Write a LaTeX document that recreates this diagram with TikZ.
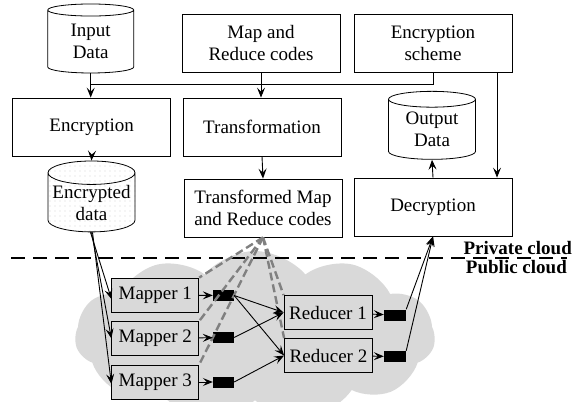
\documentclass[tikz,border=0pt]{standalone}
\usepackage{fontspec}
\setmainfont{Liberation Serif}
\usetikzlibrary{shapes.geometric,shapes.symbols,arrows.meta,patterns.meta,backgrounds}
\begin{document}
\begin{tikzpicture}[x=1pt,y=-1pt,
    every node/.style={font=\fontsize{19}{22}\selectfont, inner sep=0pt, align=center},
    box/.style={draw, line width=0.8pt, minimum width=158pt, minimum height=58pt},
    store/.style={draw, line width=0.8pt, cylinder, shape border rotate=90, aspect=0.3},
    task/.style={draw, line width=0.8pt, fill=gray!30, minimum height=34pt},
    buffer/.style={fill=black, minimum width=21pt, minimum height=11pt},
    arr/.style={line width=0.9pt, -{Stealth[length=10pt,width=8pt,inset=4pt]}},
    code/.style={gray, line width=2.4pt, dash pattern=on 8pt off 4pt}]
  \useasboundingbox (0,0) rectangle (577,401);
  \begin{scope}[on background layer]
    \node[cloud, cloud puffs=11, cloud puff arc=100, cloud ignores aspect, fill=gray!30,
      minimum width=360pt, minimum height=170pt] (cloud) at (255,336) {};
  \end{scope}
  \draw
    (90.7,41.7) node[store, minimum width=86pt, minimum height=69pt] (indata) {Input\\Data}
    (261,43) node[box] (mapcodes) {Map and\\Reduce codes}
    (433,43) node[box] (scheme) {Encryption\\scheme}
    (91.7,127) node[box] (encrypt) {Encryption}
    (262,127) node[box] (transform) {Transformation}
    (432,129.5) node[store, minimum width=87pt, minimum height=68pt] (outdata) {Output\\Data}
    (91.5,202.5) node[store, minimum width=87pt, minimum height=62pt,
      pattern={Dots[distance=5pt,radius=0.45pt]}, pattern color=gray] (encdata) {Encrypted\\data}
    (263,208) node[box] (transformed) {Transformed Map\\and Reduce codes}
    (433,207) node[box] (decrypt) {Decryption}
    (155.3,295) node[task, minimum width=87pt] (mapper1) {Mapper 1}
    (155.3,338.5) node[task, minimum width=87pt] (mapper2) {Mapper 2}
    (155.3,382) node[task, minimum width=87pt] (mapper3) {Mapper 3}
    (223.5,295.5) node[buffer] (mout1) {}
    (223.5,337.5) node[buffer] (mout2) {}
    (223.5,382) node[buffer] (mout3) {}
    (328,312.5) node[task, minimum width=88pt] (reducer1) {Reducer 1}
    (328.5,355.5) node[task, minimum width=88pt] (reducer2) {Reducer 2}
    (395,315) node[buffer, minimum width=22pt] (rout1) {}
    (395,356.5) node[buffer, minimum width=22pt] (rout2) {};
  \coordinate (busL) at (90.7,84);
  \coordinate (divL) at (11,258);
  \coordinate (divR) at (567,258);
  \node[anchor=base east, font=\fontsize{19}{22}\selectfont\bfseries] (private) at (572,254) {Private cloud};
  \node[anchor=base east, font=\fontsize{19}{22}\selectfont\bfseries] (public) at (567,273) {Public cloud};
  \draw[line width=2.2pt, dash pattern=on 14pt off 8pt] (divL) -- (divR);
  \begin{scope}[code]
    \draw (transformed.south) to (mapper1.north east);
    \draw (transformed.south) to (mapper2.north east);
    \draw (transformed.south) to (mapper3.north east);
    \draw (transformed.south) to (reducer1.north west);
    \draw (transformed.south) to (reducer2.north west);
  \end{scope}
  \begin{scope}[arr]
    \draw[-] (scheme.south) |- (busL);
    \draw (indata.south) to (indata.south |- encrypt.north);
    \draw (mapcodes.south) to (mapcodes.south |- transform.north);
    \draw ([xshift=64pt]scheme.south) to ([xshift=64pt]decrypt.north);
    \draw (decrypt.north) to (outdata.south);
    \draw (encrypt.south) to (encdata.top);
    \draw (transform.south) to (transformed.north);
    \draw ([xshift=-1pt]encdata.south) to ([yshift=-4pt]mapper1.west);
    \draw (encdata.south) to (mapper2.west);
    \draw ([xshift=1pt]encdata.south) to ([yshift=-2pt]mapper3.west);
    \draw (mapper1) to (mout1);
    \draw (mapper2) to (mout2);
    \draw (mapper3) to (mout3);
    \draw (mout1.east) to (reducer1.west);
    \draw (mout1.east) to (reducer2.west);
    \draw (mout2.east) to (reducer1.west);
    \draw (mout3.east) to (reducer2.west);
    \draw (reducer1) to (rout1);
    \draw (reducer2) to (rout2);
    \draw (rout1.north east) to (decrypt.south);
    \draw (rout2.north east) to (decrypt.south);
  \end{scope}
\end{tikzpicture}
\end{document}
